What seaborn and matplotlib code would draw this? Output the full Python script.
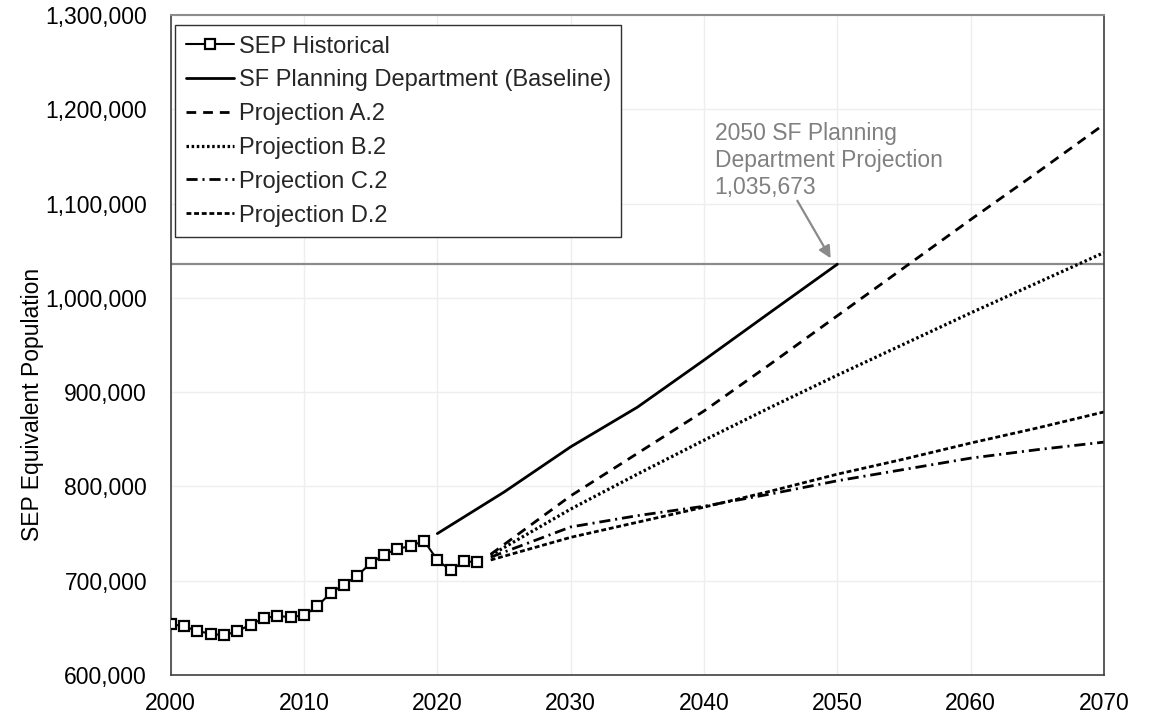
import numpy as np
import pandas as pd
import matplotlib
matplotlib.use("Agg")
import matplotlib.pyplot as plt
import seaborn as sns
from matplotlib.ticker import FuncFormatter

# ---------------- data ----------------
hist_years = list(range(2000, 2024))
hist_values = [654000, 651600, 646600, 643800, 642000, 646600, 653400, 660400,
               662500, 661500, 663300, 672800, 687300, 695800, 705300, 718700,
               727600, 733900, 736700, 742400, 721900, 711000, 720500, 719800]

base_years = [2020, 2025, 2030, 2035, 2040, 2045, 2050]
base_values = [750000, 794000, 842000, 884000, 934000, 985000, 1035673]

proj_years = [2024, 2030, 2035, 2040, 2045, 2050, 2055, 2060, 2065, 2070]
proj_a = [728000, 790000, 835000, 880000, 930000, 981000, 1032000, 1083000, 1133000, 1184000]
proj_b = [727000, 776000, 813000, 849000, 884000, 918000, 951000, 984000, 1016000, 1048000]
proj_c = [725000, 757000, 769000, 779000, 792000, 806000, 818000, 830000, 839000, 847000]
proj_d = [722000, 746000, 762000, 778000, 795000, 813000, 829000, 846000, 862000, 879000]

ref_value = 1035673
ref_text = "2050 SF Planning\nDepartment Projection\n1,035,673"

x_ticks = list(range(2000, 2071, 10))
y_ticks = list(range(600000, 1300001, 100000))
y_label = "SEP Equivalent Population"

# ---------------- style ----------------
sns.set_theme(style="white")
plt.rcParams['font.family'] = ['Liberation Sans', 'DejaVu Sans']
plt.rcParams['lines.scale_dashes'] = False
FS = 16.5

fig = plt.figure(figsize=(11.6, 7.15), dpi=100)
ax = fig.add_axes([170.7 / 1160, 1 - 675 / 715, (1104 - 170.7) / 1160, (675 - 15) / 715])

ax.grid(True, color="#eeeeee", linewidth=1.0)
ax.set_axisbelow(True)

ax.axhline(ref_value, color="#8a8a8a", linewidth=1.6, zorder=2)

lw = 2.0
sns.lineplot(x=hist_years, y=hist_values, ax=ax, color="black", linewidth=1.5,
             marker="s", markersize=6.5, markerfacecolor="white",
             markeredgecolor="black", markeredgewidth=1.6,
             label="SEP Historical", zorder=5)
sns.lineplot(x=base_years, y=base_values, ax=ax, color="black", linewidth=lw,
             label="SF Planning Department (Baseline)")
sns.lineplot(x=proj_years, y=proj_a, ax=ax, color="black", linewidth=lw,
             linestyle=(0, (7, 5)), label="Projection A.2")
sns.lineplot(x=proj_years, y=proj_b, ax=ax, color="black", linewidth=2.3,
             linestyle=(0, (1.8, 1.9)), label="Projection B.2")
sns.lineplot(x=proj_years, y=proj_c, ax=ax, color="black", linewidth=lw,
             linestyle=(0, (8, 3.5, 1.5, 3.5)), label="Projection C.2")
sns.lineplot(x=proj_years, y=proj_d, ax=ax, color="black", linewidth=lw,
             linestyle=(0, (3.5, 2)), label="Projection D.2")

ax.set_xlim(2000, 2070)
ax.set_ylim(600000, 1300000)
ax.set_xticks(x_ticks)
ax.set_yticks(y_ticks)
ax.yaxis.set_major_formatter(FuncFormatter(lambda v, p: f"{int(v):,}"))
ax.xaxis.set_major_formatter(FuncFormatter(lambda v, p: f"{int(v)}"))

ax.tick_params(axis="x", direction="out", length=8, width=1, color="#404040",
               labelsize=FS, pad=4, labelcolor="black")
ax.tick_params(axis="y", direction="in", length=7, width=1, color="#404040",
               labelsize=FS, pad=17, labelcolor="black")
ax.tick_params(axis="y", right=False)
ax.tick_params(axis="x", top=False)
ax.set_xlabel("")
ax.set_ylabel(y_label, fontsize=FS, color="black")
ax.yaxis.set_label_coords(-0.136, 0.41)

for side in ["left", "bottom", "right"]:
    ax.spines[side].set_color("#404040")
    ax.spines[side].set_linewidth(1.2)
    ax.spines[side].set_visible(True)
ax.spines["top"].set_color("#8c8c8c")
ax.spines["top"].set_linewidth(1.5)
ax.spines["top"].set_visible(True)

# annotation
ax.text(2040.8, 1186000, ref_text, ha="left", va="top", fontsize=FS,
        color="#808080", linespacing=1.2)
ax.annotate("", xy=(2049.5, 1042000), xytext=(2047.0, 1103000),
            arrowprops=dict(arrowstyle="-|>", color="#8a8a8a", lw=1.6,
                            mutation_scale=18, shrinkA=0, shrinkB=0))

leg = ax.legend(loc="upper left", bbox_to_anchor=(0.0046, 0.985),
                borderaxespad=0, fontsize=17, frameon=True, fancybox=False,
                framealpha=1, edgecolor="#303030", handlelength=2.05,
                handletextpad=0.2, labelspacing=0.5, borderpad=0.45)
leg.get_frame().set_linewidth(1.0)

fig.savefig("out.png", dpi=100)
